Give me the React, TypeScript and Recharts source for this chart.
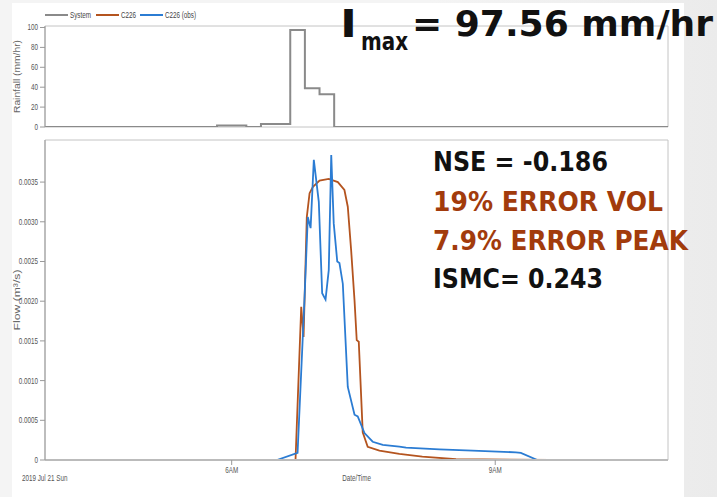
import React from "react";
import { LineChart, Line, XAxis, YAxis, ReferenceArea, Label } from "recharts";

// time axis in minutes since midnight
const T_START = 232.5;
const T_END = 658;

const rainTimes = [232.5, 350, 370, 380, 400, 410, 420, 430, 658];
const rainValues = [0, 1.5, 0, 3, 97.56, 39, 33, 0, 0];

const simTimes = [
  232.5, 403.6, 407.5, 409.1, 411.3, 413.2, 415.5, 420, 426.3, 432.5, 437,
  439.3, 441.6, 443.9, 445.4, 446.8, 449.5, 452.9, 460.9, 474.5, 490.2, 513.2,
  577.5, 658,
];
const simFlow = [
  0, 0, 0.00193, 0.00155, 0.00306, 0.00336, 0.00344, 0.00352, 0.00354, 0.0035,
  0.0034, 0.00319, 0.00264, 0.00201, 0.00151, 0.00149, 0.00035, 0.000167,
  0.000117, 0.000076, 0.000042, 0.00001, 0, 0,
];

const obsTimes = [
  232.5, 390.9, 405, 409.8, 412, 413.9, 416.1, 419.5, 421.8, 424.1, 426.3, 428,
  429.7, 432.1, 433.6, 435.9, 439.3, 443.9, 446.1, 450.7, 456.3, 463.2, 474.5,
  479.1, 501.8, 524.5, 554.1, 557.5, 568.8, 658,
];
const obsFlow = [
  0, 0, 0.00009, 0.00206, 0.00306, 0.00292, 0.00378, 0.00325, 0.0021, 0.00202,
  0.00239, 0.00384, 0.00298, 0.0025, 0.00248, 0.00222, 0.00092, 0.00057,
  0.00055, 0.00034, 0.00023, 0.00019, 0.000168, 0.000155, 0.000135, 0.000117,
  0.000097, 0.00009, 0, 0,
];

const xTicks = [360, 540];
const xTickLabels = ["6AM", "9AM"];
const rainTicks = [0, 20, 40, 60, 80, 100];
const flowTicks = [0, 0.0005, 0.001, 0.0015, 0.002, 0.0025, 0.003, 0.0035];

const legendNames = ["System", "C226", "C226 (obs)"];
const legendColors = ["#8a8a8a", "#b4541f", "#2b7cd3"];

const RAIN_MAX = 101.5;
const FLOW_MAX = 0.00403;

const rainData = rainTimes.map((t, i) => ({ t, rain: rainValues[i] }));
const simData = simTimes.map((t, i) => ({ t, flow: simFlow[i] }));
const obsData = obsTimes.map((t, i) => ({ t, flow: obsFlow[i] }));

// the screenshot uses a narrow sans; squeeze Liberation Sans to match
const narrow = "'Liberation Sans', Arial, sans-serif";
const SQUEEZE = 0.74;
const boldFont = "'DejaVu Sans', sans-serif";

const makeTick = (fmt: (v: number) => string, anchor: string, dy: string) => (props: any) => {
  const { x, y, payload } = props;
  return (
    <g transform={`translate(${x},${y})`}>
      <text transform={`scale(${SQUEEZE},1)`} textAnchor={anchor} dy={dy} fontSize={8.5} fill="#555" fontFamily={narrow}>
        {fmt(payload.value)}
      </text>
    </g>
  );
};

const yLabel = (text: string, len: number) => (props: any) => {
  const { x, y, height } = props.viewBox;
  const cx = x + 17;
  const cy = y + height / 2;
  return (
    <text
      x={cx}
      y={cy}
      transform={`rotate(-90 ${cx} ${cy})`}
      textAnchor="middle"
      dy="0.35em"
      fontSize={9}
      fill="#666"
      fontFamily={narrow}
      textLength={len}
      lengthAdjust="spacingAndGlyphs"
    >
      {text}
    </text>
  );
};

const xLabel = (props: any) => {
  const { x, y, width, height } = props.viewBox;
  return (
    <g transform={`translate(${x + width / 2},${y + height - 9})`}>
      <text transform={`scale(${SQUEEZE},1)`} textAnchor="middle" fontSize={8.5} fill="#555" fontFamily={narrow}>
        Date/Time
      </text>
    </g>
  );
};

const legendSwatchX = [45, 96, 140];

export default function App() {
  return (
    <div
      style={{
        position: "absolute",
        left: 0,
        top: 0,
        width: 717,
        height: 497,
        overflow: "hidden",
        background: "linear-gradient(90deg, #f4f4f4 0%, #f4f4f4 60%, #ebebeb 100%)",
      }}
    >
      <div style={{ position: "absolute", left: 12, top: 3, width: 672, height: 494, background: "#fff" }} />

      <div style={{ position: "absolute", left: 0, top: 0 }}>
        <LineChart width={717} height={140} data={rainData} margin={{ top: 26, right: 49, bottom: 13, left: 0 }}>
          <XAxis dataKey="t" type="number" domain={[T_START, T_END]} allowDataOverflow hide />
          <YAxis
            width={45}
            domain={[0, RAIN_MAX]}
            ticks={rainTicks}
            interval={0}
            tickSize={5}
            tickMargin={2}
            tick={makeTick((v) => String(v), "end", "0.35em")}
            axisLine={{ stroke: "#999" }}
            tickLine={{ stroke: "#999" }}
            allowDataOverflow
          >
            <Label content={yLabel("Rainfall (mm/hr)", 73)} />
          </YAxis>
          <ReferenceArea x1={T_START} x2={T_END} y1={0} y2={RAIN_MAX} fill="none" stroke="#c4c4c4" />
          <Line
            type="stepAfter"
            dataKey="rain"
            stroke="#8a8a8a"
            strokeWidth={2}
            dot={false}
            isAnimationActive={false}
          />
        </LineChart>
      </div>

      <div style={{ position: "absolute", left: 0, top: 130 }}>
        <LineChart width={717} height={367} margin={{ top: 10, right: 49, bottom: 7, left: 0 }}>
          <XAxis
            dataKey="t"
            type="number"
            domain={[T_START, T_END]}
            allowDataOverflow
            ticks={xTicks}
            interval={0}
            height={30}
            tickSize={5}
            tickMargin={2}
            tick={makeTick((v) => xTickLabels[xTicks.indexOf(v)] ?? "", "middle", "0.71em")}
            axisLine={{ stroke: "#bbb", strokeWidth: 2 }}
            tickLine={{ stroke: "#999" }}
          >
            <Label content={xLabel} />
          </XAxis>
          <YAxis
            width={45}
            domain={[0, FLOW_MAX]}
            ticks={flowTicks}
            interval={0}
            tickSize={5}
            tickMargin={2}
            tick={makeTick((v) => (v === 0 ? "0" : v.toFixed(4)), "end", "0.35em")}
            axisLine={{ stroke: "#999" }}
            tickLine={{ stroke: "#999" }}
            allowDataOverflow
          >
            <Label content={yLabel("Flow (m³/s)", 61)} />
          </YAxis>
          <ReferenceArea x1={T_START} x2={T_END} y1={0} y2={FLOW_MAX} fill="none" stroke="#c4c4c4" />
          <Line
            data={simData}
            type="linear"
            dataKey="flow"
            stroke={legendColors[1]}
            strokeWidth={1.8}
            dot={false}
            isAnimationActive={false}
          />
          <Line
            data={obsData}
            type="linear"
            dataKey="flow"
            stroke={legendColors[2]}
            strokeWidth={1.8}
            dot={false}
            isAnimationActive={false}
          />
        </LineChart>
      </div>

      {/* legend, date caption and slide annotations */}
      <svg
        width={717}
        height={497}
        style={{ position: "absolute", left: 0, top: 0, pointerEvents: "none" }}
      >
        {legendNames.map((name, i) => (
          <g key={name}>
            <line x1={legendSwatchX[i]} x2={legendSwatchX[i] + 23} y1={15} y2={15} stroke={legendColors[i]} strokeWidth={2} />
            <g transform={`translate(${legendSwatchX[i] + 25},18)`}>
              <text transform={`scale(${SQUEEZE},1)`} fontSize={8.5} fill="#444" fontFamily={narrow}>
                {name}
              </text>
            </g>
          </g>
        ))}
        <g transform="translate(22,481)">
          <text transform={`scale(${SQUEEZE},1)`} fontSize={8.5} fill="#555" fontFamily={narrow}>
            2019 Jul 21 Sun
          </text>
        </g>

        <g fontFamily={boldFont} fontWeight="bold">
          <text x={342} y={36} fontSize={36} fill="#111" textLength={13} lengthAdjust="spacingAndGlyphs" stroke="#111" strokeWidth={2}>
            I
          </text>
          <text x={361} y={50} fontSize={24} fill="#111" textLength={47} lengthAdjust="spacingAndGlyphs">
            max
          </text>
          <text x={412} y={36} fontSize={36} fill="#111" textLength={301} lengthAdjust="spacingAndGlyphs">
            = 97.56 mm/hr
          </text>
          <text x={433} y={171} fontSize={26} fill="#111" textLength={175} lengthAdjust="spacingAndGlyphs">
            NSE = -0.186
          </text>
          <text x={433} y={210.5} fontSize={26} fill="#a23b0c" textLength={230} lengthAdjust="spacingAndGlyphs">
            19% ERROR VOL
          </text>
          <text x={433} y={249.5} fontSize={26} fill="#a23b0c" textLength={255} lengthAdjust="spacingAndGlyphs">
            7.9% ERROR PEAK
          </text>
          <text x={433} y={288} fontSize={26} fill="#111" textLength={170} lengthAdjust="spacingAndGlyphs">
            ISMC= 0.243
          </text>
        </g>
      </svg>
    </div>
  );
}
